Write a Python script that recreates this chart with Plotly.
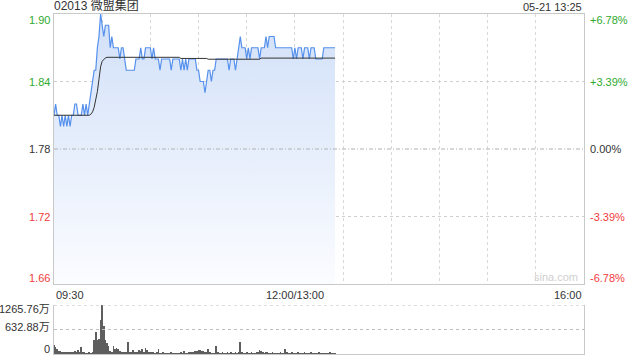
import plotly.graph_objects as go

# ---------------- data ----------------
title_text = "02013 微盟集团"
stamp_text = "05-21 13:25"
prev_close = 1.78

price = [
    1.81, 1.82, 1.81, 1.81, 1.80, 1.81, 1.80, 1.81, 1.80, 1.81,
    1.80, 1.81, 1.81, 1.82, 1.82, 1.81, 1.81, 1.81, 1.82, 1.81,
    1.82, 1.81, 1.82, 1.83, 1.84, 1.85, 1.85, 1.87, 1.88, 1.90,
    1.89, 1.88, 1.89, 1.89, 1.89, 1.87, 1.88, 1.87, 1.87, 1.87,
    1.87, 1.86, 1.87, 1.87, 1.86, 1.85, 1.85, 1.85, 1.85, 1.85,
    1.85, 1.86, 1.86, 1.86, 1.87, 1.86, 1.86, 1.87, 1.87, 1.87,
    1.87, 1.86, 1.87, 1.86, 1.86, 1.86, 1.85, 1.86, 1.86, 1.86,
    1.86, 1.86, 1.86, 1.85, 1.86, 1.86, 1.86, 1.86, 1.86, 1.85,
    1.86, 1.85, 1.86, 1.85, 1.86, 1.86, 1.86, 1.86, 1.86, 1.85,
    1.85, 1.84, 1.84, 1.84, 1.83, 1.84, 1.85, 1.85, 1.84, 1.85,
    1.85, 1.86, 1.86, 1.86, 1.86, 1.86, 1.86, 1.86, 1.86, 1.85,
    1.86, 1.86, 1.86, 1.85, 1.86, 1.87, 1.88, 1.87, 1.87, 1.87,
    1.86, 1.87, 1.86, 1.87, 1.87, 1.87, 1.87, 1.87, 1.86, 1.87,
    1.87, 1.87, 1.88, 1.87, 1.88, 1.88, 1.88, 1.88, 1.87, 1.87,
    1.87, 1.87, 1.87, 1.87, 1.87, 1.87, 1.87, 1.87, 1.87, 1.86,
    1.87, 1.86, 1.87, 1.87, 1.87, 1.86, 1.87, 1.87, 1.87, 1.86,
    1.87, 1.87, 1.87, 1.86, 1.86, 1.86, 1.86, 1.86, 1.87, 1.87,
    1.87, 1.87, 1.87, 1.87, 1.87, 1.87,
]

avg_price = [
    1.810, 1.810, 1.810, 1.810, 1.810, 1.810, 1.810, 1.810, 1.810, 1.810,
    1.810, 1.810, 1.810, 1.810, 1.810, 1.810, 1.810, 1.810, 1.810, 1.810,
    1.810, 1.810, 1.810, 1.811, 1.813, 1.817, 1.824, 1.831, 1.842, 1.853,
    1.858, 1.860, 1.861, 1.8615, 1.8615, 1.8615, 1.8615, 1.8615, 1.8615, 1.8615,
    1.8615, 1.8615, 1.8615, 1.8615, 1.8615, 1.8615, 1.8615, 1.8615, 1.8615, 1.8615,
    1.8615, 1.8615, 1.8615, 1.8615, 1.8615, 1.8615, 1.8615, 1.8615, 1.8615, 1.8615,
    1.8615, 1.8615, 1.8615, 1.8615, 1.8615, 1.8615, 1.8615, 1.8615, 1.8615, 1.8615,
    1.8615, 1.8615, 1.8615, 1.8615, 1.8615, 1.8615, 1.8615, 1.8615, 1.8615, 1.8605,
    1.8605, 1.8605, 1.8605, 1.8605, 1.8605, 1.8605, 1.8605, 1.8605, 1.8605, 1.8605,
    1.8605, 1.8605, 1.8605, 1.8605, 1.8605, 1.8605, 1.8598, 1.8598, 1.8598, 1.8598,
    1.8598, 1.8598, 1.8598, 1.8598, 1.8598, 1.8598, 1.8598, 1.8598, 1.8598, 1.8598,
    1.8598, 1.8598, 1.8598, 1.8598, 1.8598, 1.8598, 1.8598, 1.8598, 1.8598, 1.8598,
    1.8598, 1.8598, 1.8598, 1.8598, 1.8598, 1.8598, 1.8598, 1.8598, 1.8598, 1.8608,
    1.8608, 1.8608, 1.8608, 1.8608, 1.8608, 1.8608, 1.8608, 1.8608, 1.8608, 1.8608,
    1.8608, 1.8608, 1.8608, 1.8608, 1.8608, 1.8608, 1.8608, 1.8608, 1.8608, 1.8608,
    1.8608, 1.8608, 1.8608, 1.8608, 1.8608, 1.8608, 1.8608, 1.8608, 1.8608, 1.8608,
    1.8608, 1.8608, 1.8608, 1.8608, 1.8608, 1.8608, 1.8608, 1.8608, 1.8608, 1.8608,
    1.8608, 1.8608, 1.8608, 1.8608, 1.8608, 1.8608,
]

volume = [  # 万股 per minute
    240, 180, 130, 90, 70, 60, 50, 60, 40, 55,
    45, 30, 60, 75, 40, 110, 30, 170, 40, 30,
    25, 20, 30, 20, 40, 350, 580, 360, 390, 890,
    1265.76, 715, 350, 285, 200, 90, 60, 200, 130, 150,
    130, 70, 50, 40, 50, 40, 300, 60, 40, 110,
    50, 35, 40, 110, 80, 130, 60, 155, 100, 40,
    50, 35, 30, 25, 30, 130, 25, 20, 30, 20,
    25, 20, 15, 30, 20, 15, 20, 25, 20, 30,
    20, 70, 20, 25, 45, 30, 40, 60, 70, 80,
    100, 110, 90, 70, 50, 40, 135, 30, 25, 20,
    25, 215, 30, 20, 25, 30, 20, 25, 30, 20,
    40, 25, 20, 30, 25, 40, 320, 30, 25, 20,
    40, 20, 25, 30, 20, 25, 30, 60, 110, 70,
    30, 25, 40, 30, 20, 25, 30, 20, 25, 20,
    25, 30, 20, 25, 135, 30, 25, 20, 30, 25,
    20, 25, 30, 20, 25, 20, 30, 25, 20, 25,
    30, 20, 25, 20, 25, 30, 20, 25, 20, 25,
    20, 25, 30, 20, 25, 20,
]

price_ticks = [1.90, 1.84, 1.78, 1.72, 1.66]
pct_labels = ["+6.78%", "+3.39%", "0.00%", "-3.39%", "-6.78%"]
time_tick_pos = [0, 150, 330]
time_tick_labels = ["09:30", "12:00/13:00", "16:00"]
grid_minutes = [30, 60, 90, 120, 150, 180, 210, 240, 270, 300]
vol_ticks = [1265.76, 632.88, 0]
vol_labels = ["1265.76万", "632.88万", "0"]

# ---------------- styling ----------------
FONT = "Liberation Sans, Arial, Noto Sans CJK SC, sans-serif"
UP = "#2eaa2e"
DOWN = "#f03c3c"
FLAT = "#333333"
BORDER = "#c9c9c9"
minutes = list(range(len(price)))

fig = go.Figure()
fig.add_trace(go.Scatter(
    x=minutes, y=price, mode="lines",
    line=dict(color="#5590ec", width=1.2),
    fill="tozeroy",
    fillgradient=dict(type="vertical", start=1.66, stop=1.90,
                      colorscale=[[0, "#fbfcff"], [1, "#d1e0f8"]]),
    xaxis="x", yaxis="y", hoverinfo="skip", showlegend=False,
))
fig.add_trace(go.Scatter(
    x=minutes, y=avg_price, mode="lines",
    line=dict(color="#333333", width=1),
    xaxis="x", yaxis="y", hoverinfo="skip", showlegend=False,
))
fig.add_trace(go.Bar(
    x=minutes, y=volume, width=0.45,
    marker=dict(color="#5e5e5e", line=dict(width=0)),
    xaxis="x2", yaxis="y2", hoverinfo="skip", showlegend=False,
))

main_bottom = (354 - 284) / 340
vol_top = (354 - 305) / 340

fig.update_layout(
    width=640, height=360,
    margin=dict(l=54, r=56, t=14, b=6),
    paper_bgcolor="white", plot_bgcolor="white",
    font=dict(family=FONT, size=11, color="#333"),
    xaxis=dict(domain=[0, 1], range=[0, 330], anchor="y",
               tickvals=grid_minutes, showticklabels=False, ticks="",
               showgrid=True, gridcolor="#d8d8d8", griddash="dot", gridwidth=1,
               showline=True, mirror=True, linecolor=BORDER, linewidth=1,
               zeroline=False),
    yaxis=dict(domain=[main_bottom, 1], range=[1.66, 1.90], anchor="x",
               tickvals=[1.84, 1.72], showticklabels=False, ticks="",
               showgrid=True, gridcolor="#cfcfcf", griddash="dot", gridwidth=1,
               showline=True, mirror=True, linecolor=BORDER, linewidth=1,
               zeroline=False),
    xaxis2=dict(domain=[0, 1], range=[0, 330], anchor="y2",
                showticklabels=False, ticks="", showgrid=False,
                showline=True, linecolor=BORDER, linewidth=1, zeroline=False),
    yaxis2=dict(domain=[0, vol_top], range=[0, vol_ticks[0]], anchor="x2",
                showticklabels=False, ticks="", showgrid=False,
                showline=True, mirror=True, linecolor=BORDER, linewidth=1,
                zeroline=False),
    bargap=0,
)

shapes = [
    dict(type="line", xref="x domain", yref="y", x0=0, x1=1,
         y0=prev_close, y1=prev_close,
         line=dict(color="#b0b0b0", width=1, dash="4px,2px,1px,2px")),
]
for v in vol_ticks[:2]:
    shapes.append(dict(type="line", xref="x2 domain", yref="y2", x0=0, x1=1,
                       y0=v, y1=v, line=dict(color="#bdbdbd", width=1, dash="dot")))
fig.update_layout(shapes=shapes)

ann = []
n = len(price_ticks)
for i, (p, pl) in enumerate(zip(price_ticks, pct_labels)):
    col = UP if p > prev_close else (DOWN if p < prev_close else FLAT)
    ys = -6 if i == 0 else (6 if i == n - 1 else 0)
    ann.append(dict(x=0, xref="paper", y=p, yref="y", text=f"{p:.2f}",
                    xanchor="right", yanchor="middle", xshift=-2, yshift=ys,
                    showarrow=False, font=dict(size=11, color=col, family=FONT)))
    ann.append(dict(x=1, xref="paper", y=p, yref="y", text=pl,
                    xanchor="left", yanchor="middle", xshift=4, yshift=ys,
                    showarrow=False, font=dict(size=11, color=col, family=FONT)))

anchors = ["left", "center", "right"]
for pos, lab, xa in zip(time_tick_pos, time_tick_labels, anchors):
    ann.append(dict(x=pos, xref="x", y=main_bottom, yref="paper", text=lab,
                    xanchor=xa, yanchor="top", yshift=-3, showarrow=False,
                    font=dict(size=11, color="#333", family=FONT)))

vshifts = [-4, 3, 5]
for v, lab, ys in zip(vol_ticks, vol_labels, vshifts):
    ann.append(dict(x=0, xref="paper", y=v, yref="y2", text=lab,
                    xanchor="right", yanchor="middle", xshift=-2, yshift=ys,
                    showarrow=False, font=dict(size=11, color="#333", family=FONT)))

ann.append(dict(x=0, xref="paper", y=1, yref="paper", text=title_text,
                xanchor="left", yanchor="bottom", xshift=-2, yshift=-1, showarrow=False,
                font=dict(size=12, color="#333", family=FONT)))
ann.append(dict(x=1, xref="paper", y=1, yref="paper", text=stamp_text,
                xanchor="right", yanchor="bottom", yshift=-1, showarrow=False,
                font=dict(size=11, color="#333", family=FONT)))
ann.append(dict(x=1, xref="paper", y=main_bottom, yref="paper", text="sina.com",
                xanchor="right", yanchor="bottom", xshift=-4, yshift=-1, showarrow=False,
                font=dict(size=11, color="#d0d0d0", family=FONT)))
fig.update_layout(annotations=ann)

fig.write_html("out.html")
